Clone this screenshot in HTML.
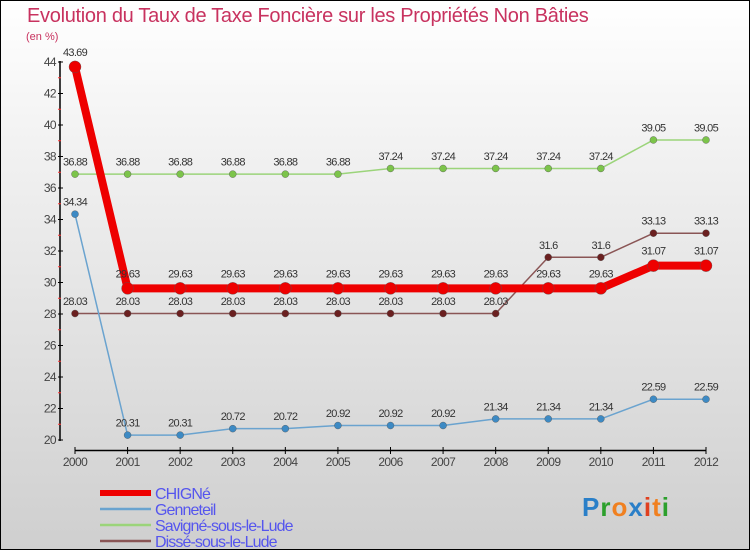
<!DOCTYPE html>
<html><head><meta charset="utf-8"><style>
body{margin:0}
#c{width:750px;height:550px;position:relative;box-sizing:border-box;border:1px solid #000;background:linear-gradient(#fff,#f0f0f0 30%,#cfcfcf);font-family:"Liberation Sans",sans-serif;overflow:hidden}
</style></head><body>
<div id="c">
<svg id="s" width="750" height="550" style="position:absolute;left:-1px;top:-1px"></svg>
</div>
<script>
const years=["2000","2001","2002","2003","2004","2005","2006","2007","2008","2009","2010","2011","2012"];
const chigne=[43.69,29.63,29.63,29.63,29.63,29.63,29.63,29.63,29.63,29.63,29.63,31.07,31.07];
const genneteil=[34.34,20.31,20.31,20.72,20.72,20.92,20.92,20.92,21.34,21.34,21.34,22.59,22.59];
const savigne=[36.88,36.88,36.88,36.88,36.88,36.88,37.24,37.24,37.24,37.24,37.24,39.05,39.05];
const disse=[28.03,28.03,28.03,28.03,28.03,28.03,28.03,28.03,28.03,31.6,31.6,33.13,33.13];
const yTicks=[20,22,24,26,28,30,32,34,36,38,40,42,44];
const NS="http://www.w3.org/2000/svg";
const s=document.getElementById('s');
const X=i=>75+i*(706-75)/12;
const Y=v=>440-(v-20)*15.75;
function el(t,a,txt){const e=document.createElementNS(NS,t);for(const k in a)e.setAttribute(k,a[k]);if(txt!==undefined)e.textContent=txt;s.appendChild(e);return e;}
let e;
e=el('text',{x:27,y:22,'font-size':20,fill:'#c8325f','letter-spacing':'-0.3'},'Evolution du Taux de Taxe Foncière sur les Propriétés Non Bâties');

e=el('text',{x:26,y:40,'font-size':11,fill:'#c8325f'},'(en %)');

e=el('line',{x1:60,y1:61,x2:60,y2:441,stroke:'#000','stroke-width':1.5});

e=el('line',{x1:75,y1:450.5,x2:706,y2:450.5,stroke:'#000','stroke-width':1.5});

yTicks.forEach(v=>{
 e=el('line',{x1:58,y1:Y(v),x2:63,y2:Y(v),stroke:'#000'});
 
 if(v<44){e=el('line',{x1:58,y1:Y(v+1),x2:61,y2:Y(v+1),stroke:'#f33'});
 }
 e=el('text',{x:56,y:Y(v)+4,'font-size':12,fill:'#444','text-anchor':'end','letter-spacing':'-0.6'},v);
 
});
years.forEach((y,i)=>{
 e=el('line',{x1:X(i),y1:447,x2:X(i),y2:454,stroke:'#000'});
 
 e=el('text',{x:X(i),y:466,'font-size':12,fill:'#444','text-anchor':'middle','letter-spacing':'-0.6'},y);
 
});
function series(vals,color,w,r,dot,name){
 e=el('polyline',{points:vals.map((v,i)=>X(i)+','+Y(v)).join(' '),fill:'none',stroke:color,'stroke-width':w,'stroke-linejoin':'round'});
 
 vals.forEach((v,i)=>{
  e=el('circle',{cx:X(i),cy:Y(v),r:r,fill:dot,stroke:'#555','stroke-width':0.4});
  
  e=el('text',{x:X(i),y:Y(v)-(r+5),'font-size':11,fill:'#333','text-anchor':'middle','letter-spacing':'-0.7'},String(v));
  
 });
}
series(savigne,'#9bd47a',1.5,3.5,'#7cc44a','savigne');
series(disse,'#8a5555',1.5,3.5,'#6b2020','disse');
series(genneteil,'#6aa3cf',1.5,3.5,'#3d8ac4','genneteil');
series(chigne,'#ee0000',8,6,'#ee0000','chigne');
const leg=[['CHIGNé','#ee0000',6],['Genneteil','#6aa3cf',2.5],['Savigné-sous-le-Lude','#9bd47a',2.5],['Dissé-sous-le-Lude','#8a5555',2.5]];
leg.forEach((l,i)=>{
 const y=493+i*16;
 e=el('line',{x1:100,y1:y,x2:151,y2:y,stroke:l[1],'stroke-width':l[2]});
 
 e=el('text',{x:155,y:y+6,'font-size':16,fill:'#55e','letter-spacing':'-0.9'},l[0]);
 
});
e=el('text',{x:582,y:516,'font-size':26,'font-weight':'bold','letter-spacing':'1'});

[['P','#2a7fc8'],['r','#2ca02c'],['o','#f08020'],['x','#2a7fc8'],['i','#e04020'],['t','#f08020'],['i','#2ca02c']].forEach(p=>{const t=document.createElementNS(NS,'tspan');t.setAttribute('fill',p[1]);t.textContent=p[0];e.appendChild(t);});
</script>
</body></html>
